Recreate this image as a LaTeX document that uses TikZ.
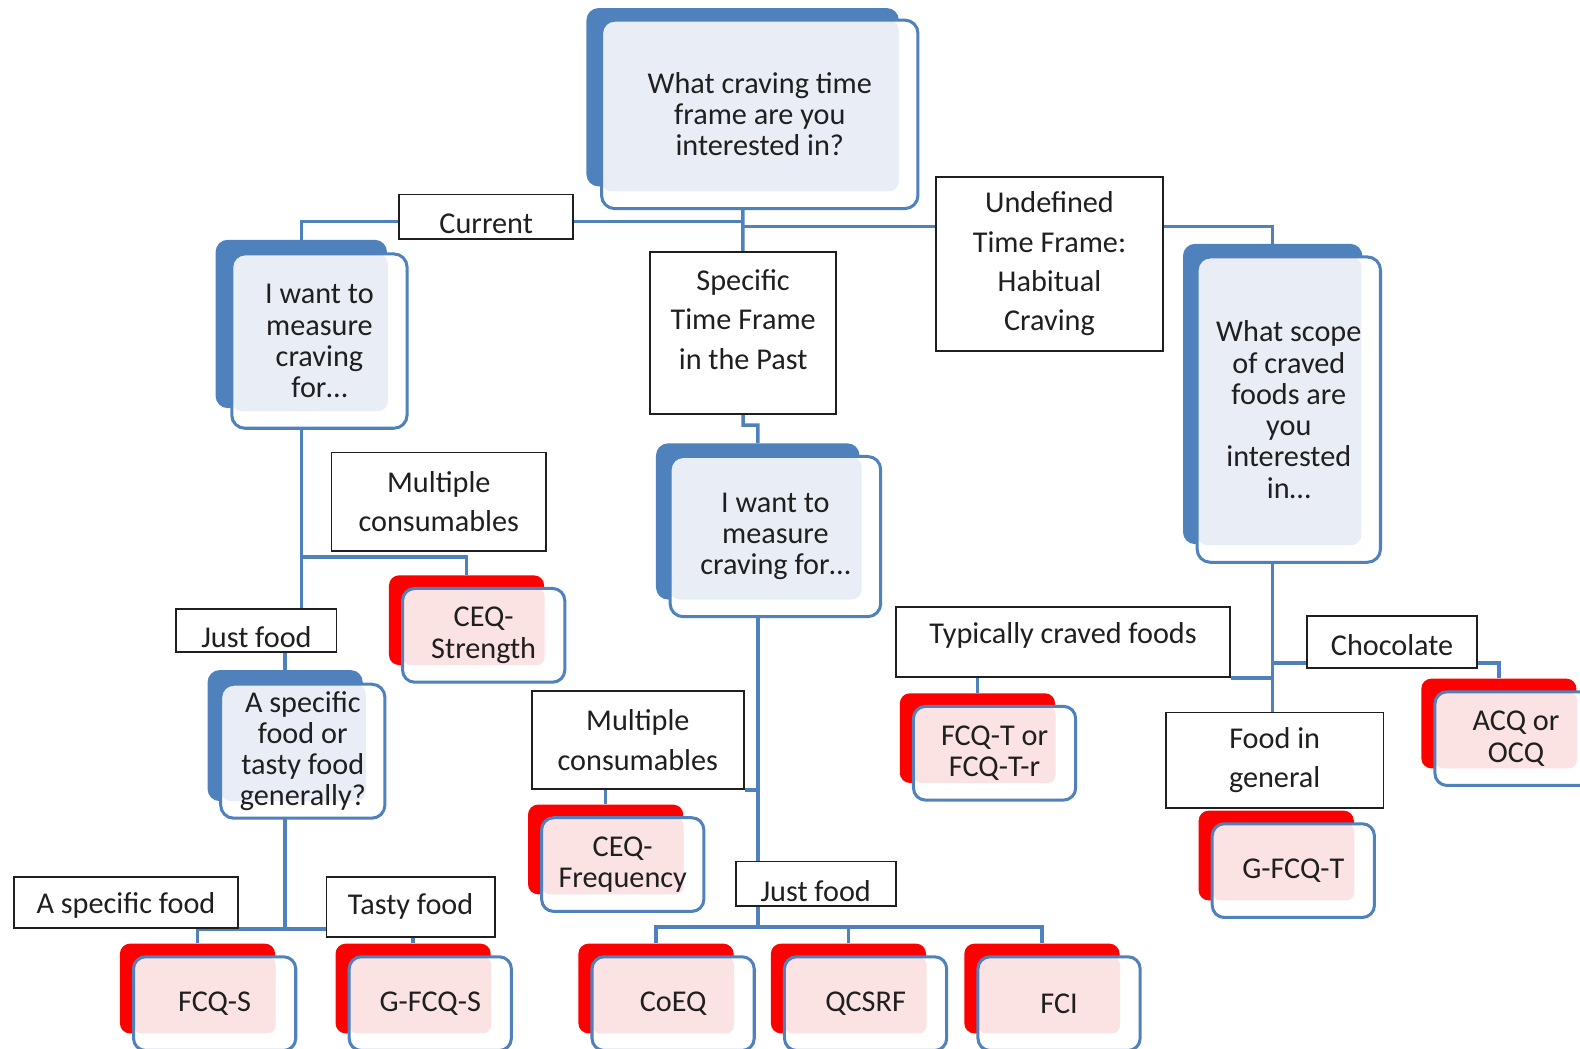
\documentclass[tikz,border=0pt]{standalone}
\usepackage{fontspec}
\setmainfont{Carlito}
\usetikzlibrary{positioning,backgrounds}
\definecolor{boxblue}{HTML}{4F81BD}
\definecolor{boxlight}{HTML}{E9EEF6}
\definecolor{boxpink}{HTML}{FBE2E3}
\definecolor{darktext}{HTML}{1F1F1F}

\begin{document}
\begin{tikzpicture}[x=1pt, y=-1pt,
  qback/.style={rectangle, rounded corners=12pt, fill=boxblue, inner sep=0pt},
  qfront/.style={rectangle, rounded corners=13pt, draw=boxblue, line width=3pt,
                 fill=white, inner sep=0pt, text=darktext, align=center,
                 font=\fontsize{30}{31}\selectfont,
                 path picture={\fill[boxlight, rounded corners=10pt]
                   (path picture bounding box.north west) rectangle
                   ([xshift=-19pt,yshift=17pt]path picture bounding box.south east);}},
  rback/.style={rectangle, rounded corners=10pt, fill=red, inner sep=0pt,
                minimum width=154pt, minimum height=89pt},
  rfront/.style={rectangle, rounded corners=12pt, draw=boxblue, line width=3pt,
                 fill=white, inner sep=0pt, text=darktext, align=center,
                 minimum width=161pt, minimum height=93pt,
                 font=\fontsize{30}{31}\selectfont,
                 path picture={\fill[boxpink, rounded corners=8pt]
                   (path picture bounding box.north west) rectangle
                   ([xshift=-20pt,yshift=17pt]path picture bounding box.south east);}},
  choice/.style={rectangle, draw=darktext, line width=1.8pt, fill=white,
                 inner sep=0pt, text=darktext, align=center,
                 font=\fontsize{30}{39}\selectfont},
  conn/.style={draw=boxblue, line width=3.5pt},
]
  \useasboundingbox (0,0) rectangle (1568,1041);

  % question boxes
  \node[qback, minimum width=310, minimum height=177] (topb) at (737,96.5) {};
  \node[qfront, minimum width=314, minimum height=187] (top) at ([shift={(17,17)}]topb.center) {What craving time\\frame are you\\interested in?};
  \node[qback, minimum width=170, minimum height=167] (q1b) at (299,321.5) {};
  \node[qfront, minimum width=174, minimum height=173] (q1) at ([shift={(18,17)}]q1b.center) {I want to\\measure\\craving\\for…};
  \node[qback, minimum width=202, minimum height=155] (qmb) at (752,517.5) {};
  \node[qfront, minimum width=209, minimum height=159] (qm) at ([shift={(17.5,15)}]qmb.center) {I want to\\measure\\craving for…};
  \node[qback, minimum width=178, minimum height=298] (qrb) at (1263,391) {};
  \node[qfront, minimum width=182, minimum height=303] (qr) at ([shift={(16,15.5)}]qrb.center) {What scope\\of craved\\foods are\\you\\interested\\in…};
  \node[qback, minimum width=154, minimum height=130] (qsb) at (283,730) {};
  \node[qfront, minimum width=163, minimum height=133] (qs) at ([shift={(17.5,15.5)}]qsb.center) {A specific\\food or\\tasty food\\generally?};

  % measures
  \node[rback] (ceqsb) at (463,615.5) {};
  \node[rfront] (ceqs) at ([shift={(17,15)}]ceqsb.center) {CEQ-\\Strength};
  \node[rback] (fcqtb) at (970,732.5) {};
  \node[rfront] (fcqt) at ([shift={(17,15)}]fcqtb.center) {FCQ-T or\\FCQ-T-r};
  \node[rback] (acqb) at (1487.5,718) {};
  \node[rfront] (acq) at ([shift={(17,15)}]acqb.center) {ACQ or\\OCQ};
  \node[rback] (gfcqtb) at (1266.5,849) {};
  \node[rfront] (gfcqt) at ([shift={(17,15)}]gfcqtb.center) {G-FCQ-T};
  \node[rback] (ceqfb) at (601,843) {};
  \node[rfront] (ceqf) at ([shift={(17,15)}]ceqfb.center) {CEQ-\\Frequency};
  \node[rback] (fcqsb) at (196,981) {};
  \node[rfront] (fcqs) at ([shift={(17,15)}]fcqsb.center) {FCQ-S};
  \node[rback] (gfcqsb) at (410,981) {};
  \node[rfront] (gfcqs) at ([shift={(17,15)}]gfcqsb.center) {G-FCQ-S};
  \node[rback] (coeqb) at (651,981) {};
  \node[rfront] (coeq) at ([shift={(17,15)}]coeqb.center) {CoEQ};
  \node[rback] (qcsrfb) at (842,981) {};
  \node[rfront] (qcsrf) at ([shift={(17,15)}]qcsrfb.center) {QCSRF};
  \node[rback] (fcib) at (1034,981) {};
  \node[rfront] (fci) at ([shift={(17,15)}]fcib.center) {FCI};

  % choices on the branches
  \node[choice, minimum width=173, minimum height=44] (cur) at (482.5,215) {\raisebox{-7pt}[\height][\depth]{Current}};
  \node[choice, minimum width=185, minimum height=161] (spec) at (737.5,330.5) {Specific\\Time Frame\\in the Past\\[-12pt]\mbox{}};
  \node[choice, minimum width=225, minimum height=172] (undef) at (1041.5,262) {Undefined\\Time Frame:\\Habitual\\Craving};
  \node[choice, minimum width=213, minimum height=98] (mcl) at (435.5,498) {Multiple\\consumables};
  \node[choice, minimum width=159, minimum height=43] (jfl) at (254.5,625.5) {\raisebox{-7pt}[\height][\depth]{Just food}};
  \node[choice, minimum width=222, minimum height=51] (asf) at (125,895.5) {\raisebox{-3pt}[\height][\depth]{A specific food}};
  \node[choice, minimum width=167, minimum height=60] (tasty) at (407.5,900) {Tasty food};
  \node[choice, minimum width=210, minimum height=97] (mcm) at (633,734.5) {Multiple\\consumables};
  \node[choice, minimum width=159, minimum height=44] (jfm) at (809.5,877) {\raisebox{-7pt}[\height][\depth]{Just food}};
  \node[choice, minimum width=332, minimum height=70] (typ) at (1055,637) {\raisebox{6pt}[\height][\depth]{Typically craved foods}};
  \node[choice, minimum width=169, minimum height=52] (choc) at (1381.5,637) {\raisebox{-3pt}[\height][\depth]{Chocolate}};
  \node[choice, minimum width=216, minimum height=95] (fig) at (1265,754.5) {Food in\\general};

  % connectors
  \begin{scope}[on background layer]
    \coordinate (hubl) at (737,220);
    \coordinate (hubr) at (737,225);
    \coordinate (hubm) at (752,920);
    \draw[conn] (topb) -- (hubl) -| (q1b);
    \draw[conn] (hubr) -| (qrb);
    \draw[conn] (topb) -- (spec.south) -- ++(0,10) -| (qmb);
    \draw[conn] (q1b) -- (q1b |- jfl.north);
    \draw[conn] (q1b) |- ([yshift=18pt]ceqsb.north) -- (ceqsb);
    \draw[conn] (jfl.south -| qsb) -- (qsb);
    \draw[conn] (qsb) -- (qsb |- asf.south);
    \draw[conn] (fcqsb) |- (gfcqsb |- asf.south) -- (gfcqsb);
    \draw[conn] (qmb) -- (hubm);
    \draw[conn] (coeqb) |- (hubm) -| (fcib);
    \draw[conn] (qcsrfb) -- (qcsrfb |- hubm);
    \draw[conn] (mcm.south east) -- (mcm.south east -| qmb);
    \draw[conn] (mcm.south -| ceqfb) -- (ceqfb);
    \draw[conn] (qrb) -- (qrb |- fig.north);
    \draw[conn] (typ.south east) -- (typ.south east -| qrb);
    \draw[conn] (typ.south -| fcqtb) -- (fcqtb);
    \draw[conn] ([yshift=6pt]choc.south west) -- ([yshift=6pt]choc.south west -| qrb);
    \draw[conn] ([yshift=6pt]choc.south east) -| (acqb);
  \end{scope}
\end{tikzpicture}
\end{document}
